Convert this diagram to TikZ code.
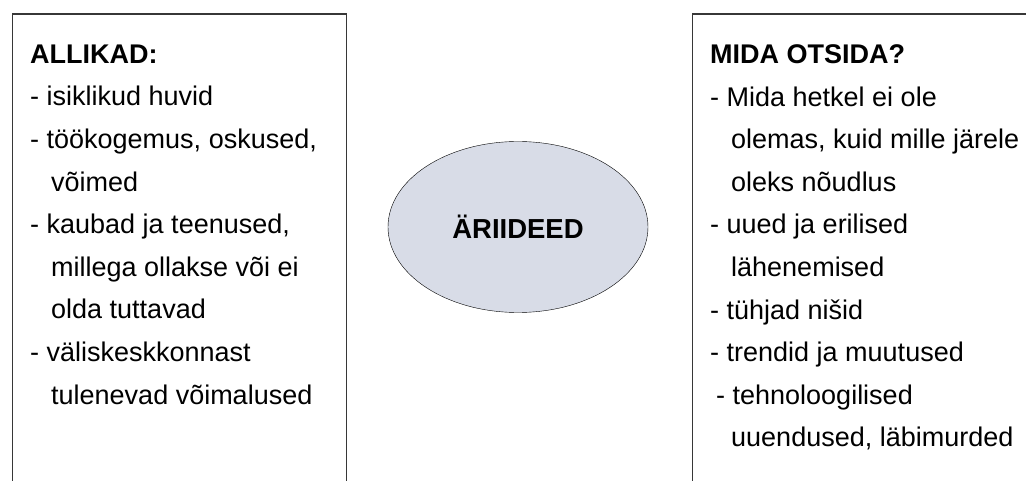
\documentclass[tikz,border=0pt]{standalone}
\usepackage{fontspec}
\setmainfont{Liberation Sans}
\usetikzlibrary{shapes.geometric,positioning}
\definecolor{ideefill}{RGB}{216,220,231}
\definecolor{panelline}{RGB}{55,55,55}

\begin{document}
\begin{tikzpicture}[x=1pt, y=1pt,
        panel/.style={draw=panelline, line width=1.6pt, rectangle, inner sep=0pt, minimum width=334pt, minimum height=490pt, anchor=north west},
        liste/.style={anchor=north west, align=left, inner sep=0pt, font=\fontsize{27}{42.6}\selectfont},
        idee/.style={draw, thin, ellipse, fill=ideefill, minimum width=260pt, minimum height=171pt, font=\fontsize{27.5}{30}\selectfont\bfseries}]
    \useasboundingbox (0,0) rectangle (1026,480);
    \clip (0,0) rectangle (1026,480);

    % two panels, cut off at the page edge
    \node[panel] (allikad) at (11.5,466.5) {};
    \node[panel, minimum width=360pt] (otsida) at (691.5,466.5) {};

    \node[idee] (ariideed) at (518,253) {ÄRIIDEED};

    \node[liste] (allikadtekst) at ([shift={(18.5,-31)}]allikad.north west) {\textbf{ALLIKAD:}\\
        - isiklikud huvid\\
        - töökogemus, oskused,\\
        \hspace*{21pt}võimed\\
        - kaubad ja teenused,\\
        \hspace*{21pt}millega ollakse või ei\\
        \hspace*{21pt}olda tuttavad\\
        - väliskeskkonnast\\
        \hspace*{21pt}tulenevad võimalused};

    \node[liste] (otsidatekst) at ([shift={(18.5,-31)}]otsida.north west) {\textbf{MIDA OTSIDA?}\\
        - Mida hetkel ei ole\\
        \hspace*{21pt}olemas, kuid mille järele\\
        \hspace*{21pt}oleks nõudlus\\
        - uued ja erilised\\
        \hspace*{21pt}lähenemised\\
        - tühjad nišid\\
        - trendid ja muutused\\
        \hspace*{6pt}- tehnoloogilised\\
        \hspace*{21pt}uuendused, läbimurded};
\end{tikzpicture}
\end{document}
